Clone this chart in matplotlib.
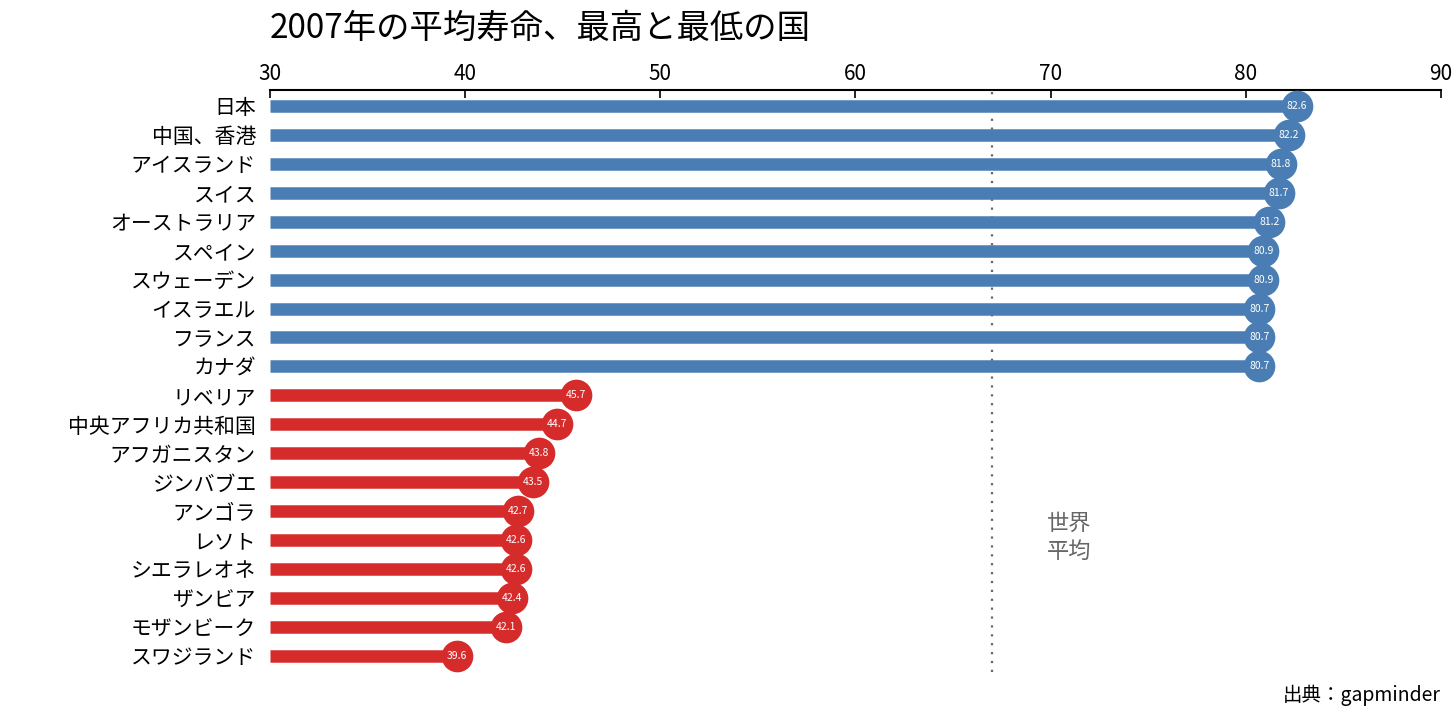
import matplotlib

matplotlib.use("Agg")
import matplotlib.pyplot as plt

plt.rcParams["font.family"] = ["Noto Sans CJK JP", "DejaVu Sans"]

COUNTRIES = ["日本", "中国、香港", "アイスランド", "スイス", "オーストラリア", "スペイン",
             "スウェーデン", "イスラエル", "フランス", "カナダ",
             "リベリア", "中央アフリカ共和国", "アフガニスタン", "ジンバブエ", "アンゴラ",
             "レソト", "シエラレオネ", "ザンビア", "モザンビーク", "スワジランド"]
LIFE_EXP = [82.6, 82.2, 81.8, 81.7, 81.2, 80.9, 80.9, 80.7, 80.7, 80.7,
            45.7, 44.7, 43.8, 43.5, 42.7, 42.6, 42.6, 42.4, 42.1, 39.6]
GROUP = ["high"] * 10 + ["low"] * 10
WORLD_AVG = 67.0
COLORS = {"high": "#4a7db4", "low": "#d62b2b"}

fig = plt.figure(figsize=(14.56, 7.2), dpi=100)
ax = fig.add_axes([0.1854, 0.067, 0.8043, 0.808])

for i, (v, g) in enumerate(zip(LIFE_EXP, GROUP)):
    c = COLORS[g]
    ax.hlines(i, 30, v, color=c, lw=9, zorder=2)
    ax.scatter(v, i, s=520, color=c, zorder=3, linewidths=0)
    ax.text(v, i, f"{v:.1f}", color="white", fontsize=7.5, ha="center", va="center", zorder=4)

ax.axvline(WORLD_AVG, color="#666666", ls=(0, (1, 3)), lw=1.6, zorder=1)
ax.text(WORLD_AVG + 2.8, 14.9, "世界\n平均", color="#666666", fontsize=16,
        ha="left", va="center", linespacing=1.3)

ax.set_xlim(30, 90)
ax.set_ylim(19.55, -0.55)
ax.set_yticks(range(len(COUNTRIES)))
ax.set_yticklabels(COUNTRIES, fontsize=15)
ax.tick_params(axis="y", length=0, pad=10)
ax.xaxis.tick_top()
ax.set_xticks(range(30, 91, 10))
ax.tick_params(axis="x", labelsize=15, length=6, width=1.2, direction="in")
for s in ["right", "bottom", "left"]:
    ax.spines[s].set_visible(False)
ax.spines["top"].set_linewidth(1.5)

fig.text(270 / 1456, 1 - 28 / 720, "2007年の平均寿命、最高と最低の国", fontsize=24,
         ha="left", va="center")
fig.text(1441 / 1456, 1 - 695 / 720, "出典：gapminder", fontsize=14, ha="right", va="center")

fig.savefig("out.png", dpi=100)
